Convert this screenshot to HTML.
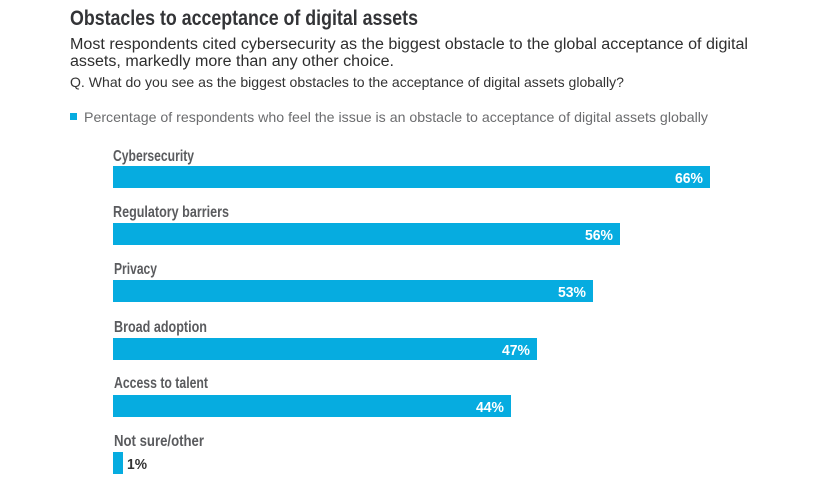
<!DOCTYPE html>
<html><head><meta charset="utf-8"><style>
html,body{margin:0;padding:0;background:#fff;}
svg{display:block;}
text{font-family:"Liberation Sans",Arial,sans-serif;}
.lab{font-weight:bold;font-size:15.5px;fill:#5a5b5e;}
.val{font-weight:bold;font-size:14.5px;fill:#fff;}
</style></head><body>
<svg width="830" height="482" viewBox="0 0 830 482" xmlns="http://www.w3.org/2000/svg">
<rect width="830" height="482" fill="#fff"/>
<text x="70" y="25" font-size="21.5" font-weight="bold" fill="#333437" textLength="348" lengthAdjust="spacingAndGlyphs">Obstacles to acceptance of digital assets</text>
<text x="70" y="49" font-size="15.5" fill="#2e2e2e" textLength="678" lengthAdjust="spacingAndGlyphs">Most respondents cited cybersecurity as the biggest obstacle to the global acceptance of digital</text>
<text x="70" y="66" font-size="15.5" fill="#2e2e2e" textLength="324" lengthAdjust="spacingAndGlyphs">assets, markedly more than any other choice.</text>
<text x="70" y="87" font-size="14" fill="#333" textLength="554" lengthAdjust="spacingAndGlyphs">Q. What do you see as the biggest obstacles to the acceptance of digital assets globally?</text>
<rect x="70" y="113" width="7" height="7" fill="#06ace0"/>
<text x="84" y="122" font-size="14" fill="#6b6c6e" textLength="624" lengthAdjust="spacingAndGlyphs">Percentage of respondents who feel the issue is an obstacle to acceptance of digital assets globally</text>

<text class="lab" x="113" y="161" textLength="81" lengthAdjust="spacingAndGlyphs">Cybersecurity</text>
<rect x="113" y="166" width="597" height="22" fill="#06ace0"/>
<text class="val" x="703" y="183" text-anchor="end" textLength="28" lengthAdjust="spacingAndGlyphs">66%</text>

<text class="lab" x="113" y="217" textLength="116" lengthAdjust="spacingAndGlyphs">Regulatory barriers</text>
<rect x="113" y="223" width="507" height="22" fill="#06ace0"/>
<text class="val" x="613" y="240" text-anchor="end" textLength="28" lengthAdjust="spacingAndGlyphs">56%</text>

<text class="lab" x="114" y="274" textLength="43" lengthAdjust="spacingAndGlyphs">Privacy</text>
<rect x="113" y="280" width="480" height="22" fill="#06ace0"/>
<text class="val" x="586" y="297" text-anchor="end" textLength="28" lengthAdjust="spacingAndGlyphs">53%</text>

<text class="lab" x="114" y="332" textLength="93" lengthAdjust="spacingAndGlyphs">Broad adoption</text>
<rect x="113" y="338" width="424" height="22" fill="#06ace0"/>
<text class="val" x="530" y="355" text-anchor="end" textLength="28" lengthAdjust="spacingAndGlyphs">47%</text>

<text class="lab" x="114" y="388" textLength="94" lengthAdjust="spacingAndGlyphs">Access to talent</text>
<rect x="113" y="395" width="398" height="22" fill="#06ace0"/>
<text class="val" x="504" y="412" text-anchor="end" textLength="28" lengthAdjust="spacingAndGlyphs">44%</text>

<text class="lab" x="114" y="446" textLength="90" lengthAdjust="spacingAndGlyphs">Not sure/other</text>
<rect x="113" y="452" width="10" height="22" fill="#06ace0"/>
<text x="127" y="469" font-size="14.5" font-weight="bold" fill="#333" textLength="20" lengthAdjust="spacingAndGlyphs">1%</text>
</svg>
</body></html>
